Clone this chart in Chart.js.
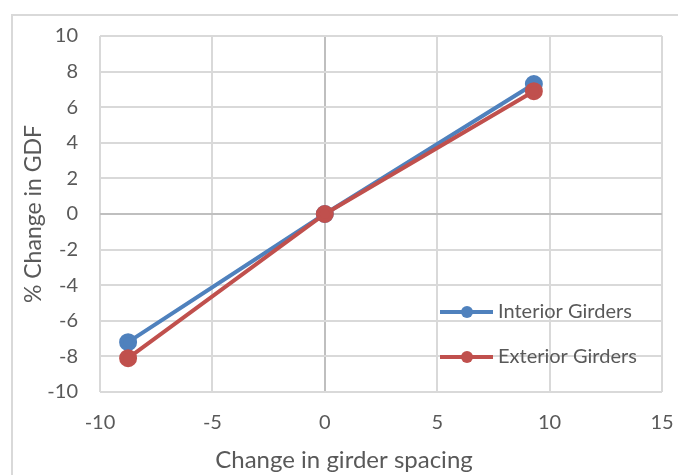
<!DOCTYPE html>
<html>
<head>
<meta charset="utf-8">
<script src="https://cdn.jsdelivr.net/npm/chart.js@4/dist/chart.umd.min.js"></script>
<style>
  html, body { margin: 0; padding: 0; background: #fff; overflow: hidden; }
  #wrap { position: relative; width: 678px; height: 475px; }
</style>
</head>
<body>
<div id="wrap"><canvas id="chart" width="678" height="475"></canvas></div>
<script>
'use strict';

// girder spacing change vs % change in GDF
var spacing = [-8.75, 0, 9.3];
var interiorGDF = [-7.2, 0, 7.3];
var exteriorGDF = [-8.1, 0, 6.9];
var seriesNames = ['Interior Girders', 'Exterior Girders'];
var seriesColors = ['#4f81bd', '#c0504d'];
var xTitle = 'Change in girder spacing';
var yTitle = '% Change in GDF';

var FONT = 'Lato, "Open Sans", sans-serif';
var TEXT = '#595959';

function toPoints(xs, ys) {
  return xs.map(function (x, i) { return { x: x, y: ys[i] }; });
}

function gridColor(ctx) {
  return ctx.tick && ctx.tick.value === 0 ? '#bfbfbf' : '#d9d9d9';
}

// outer frame, x title and legend inside the plot (Excel style)
var excelBits = {
  id: 'excelBits',
  beforeDraw: function (chart) {
    var c = chart.ctx;
    c.save();
    c.strokeStyle = '#d9d9d9';
    c.lineWidth = 2;
    c.strokeRect(12, 15, 700, 500);
    c.restore();
  },
  afterDraw: function (chart) {
    var c = chart.ctx;
    var rows = [312, 357];
    c.save();
    // x axis title sits a bit left of the plot centre in the original
    c.fillStyle = TEXT;
    c.font = '24px ' + FONT;
    c.textAlign = 'center';
    c.textBaseline = 'middle';
    c.fillText(xTitle, 344, 460);

    seriesNames.forEach(function (name, i) {
      var y = rows[i];
      c.strokeStyle = seriesColors[i];
      c.lineWidth = 4;
      c.beginPath();
      c.moveTo(440, y);
      c.lineTo(493, y);
      c.stroke();
      c.fillStyle = seriesColors[i];
      c.beginPath();
      c.arc(467, y, 6, 0, Math.PI * 2);
      c.fill();
      c.fillStyle = TEXT;
      c.font = '20px ' + FONT;
      c.textBaseline = 'middle';
      c.textAlign = 'left';
      c.fillText(name, 498, y);
    });
    c.restore();
  }
};

new Chart(document.getElementById('chart'), {
  type: 'scatter',
  data: {
    datasets: [{
      label: seriesNames[0],
      data: toPoints(spacing, interiorGDF),
      showLine: true,
      order: 1,
      borderColor: seriesColors[0],
      backgroundColor: seriesColors[0],
      borderWidth: 4,
      pointRadius: 7,
      pointHoverRadius: 7
    }, {
      label: seriesNames[1],
      data: toPoints(spacing, exteriorGDF),
      showLine: true,
      order: 0,
      borderColor: seriesColors[1],
      backgroundColor: seriesColors[1],
      borderWidth: 4,
      pointRadius: 7,
      pointHoverRadius: 7
    }]
  },
  options: {
    responsive: false,
    animation: false,
    layout: { padding: { top: 36, right: 16, left: 0, bottom: 0 } },
    plugins: {
      legend: { display: false },
      tooltip: { enabled: false }
    },
    scales: {
      x: {
        type: 'linear',
        min: -10,
        max: 15,
        afterFit: function (s) {
          s.height = 83;
          s.paddingLeft = 0;
          s.paddingRight = 0;
        },
        border: { display: false },
        grid: { color: gridColor, lineWidth: 2, drawTicks: false },
        ticks: { stepSize: 5, padding: 19, color: TEXT, font: { family: FONT, size: 20 } },
        title: { display: false }
      },
      y: {
        min: -10,
        max: 10,
        afterFit: function (s) { s.width = 100; },
        border: { display: false },
        grid: { color: gridColor, lineWidth: 2, drawTicks: false },
        ticks: { stepSize: 2, padding: 22, color: TEXT, font: { family: FONT, size: 20 } },
        title: {
          display: true,
          text: yTitle,
          color: TEXT,
          font: { family: FONT, size: 23 },
          padding: { top: 20, bottom: 0 }
        }
      }
    }
  },
  plugins: [excelBits]
});
</script>
</body>
</html>
